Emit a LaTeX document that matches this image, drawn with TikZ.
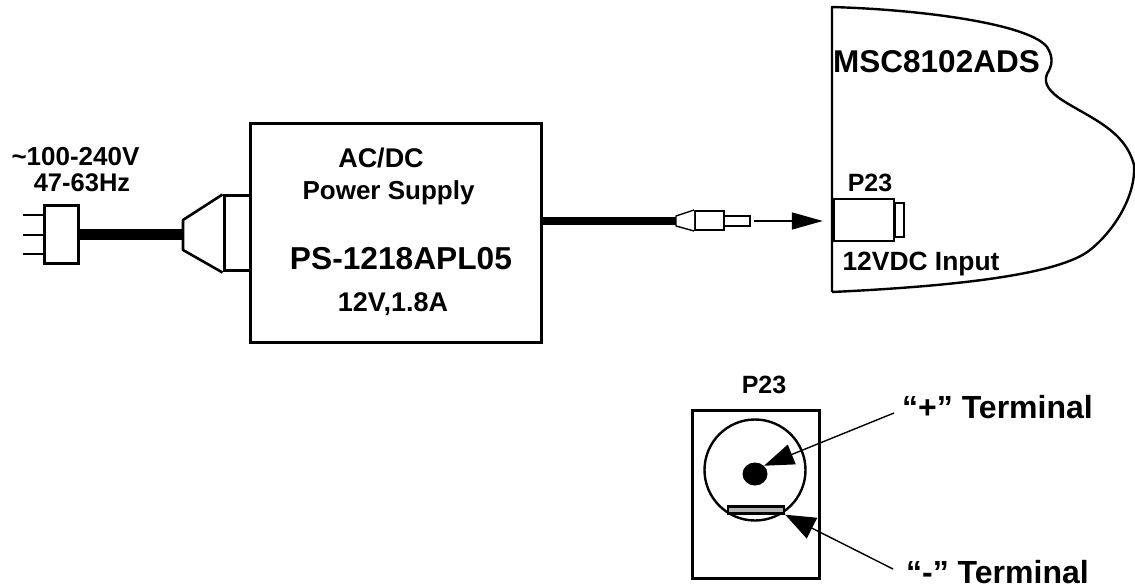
\documentclass[tikz,border=0pt]{standalone}
\usepackage{fontspec}
\setmainfont{Liberation Sans}
\usetikzlibrary{arrows.meta,shapes.geometric}
\tikzset{
    box/.style={draw,rectangle,line width=3pt,inner sep=0pt,fill=white},
    thin box/.style={draw,rectangle,line width=2pt,inner sep=0pt,fill=white},
    caption/.style={inner sep=0pt,align=center,font=\bfseries\fontsize{#1}{#1}\selectfont},
    caption/.default=20,
    cord/.style={line width=#1},
}
\begin{document}
\begin{tikzpicture}[x=1pt, y=-1pt, >={Triangle[length=31pt,width=17pt]}]
    \useasboundingbox (0,0) rectangle (1135,585);
    % board outline
    \draw[line width=2.4pt,line join=round] (832,292) -- (832,7)
        .. controls (930,10) and (1030,25) .. (1047,47)
        .. controls (1054,58) and (1052,66) .. (1047,74)
        .. controls (1043,84) and (1050,92) .. (1062,100)
        .. controls (1090,118) and (1125,130) .. (1134,165)
        .. controls (1136,195) and (1115,230) .. (1090,250)
        .. controls (1060,274) and (960,286) .. (832,292);
    \node[caption=31.5] (board) at (936.5,62) {MSC8102ADS};

    % plug and mains cord
    \node[caption=26] (mains) at (75.5,156.5) {\textasciitilde100-240V};
    \node[caption=25.5] (mains2) at (82,183) {47-63Hz};
    \node[box,minimum width=34pt,minimum height=58pt] (plug) at (61,235) {};
    \coordinate (pin1) at (23,215); \coordinate (pin2) at (23,235); \coordinate (pin3) at (23,254);
    \draw[line width=2.4pt] (pin1)--(pin1-|plug.west);
    \draw[line width=2.4pt] (pin2)--(pin2-|plug.west);
    \draw[line width=2.4pt] (pin3)--(pin3-|plug.west);

    % power supply
    \node[box,minimum width=291pt,minimum height=218pt] (psu) at (395.5,233) {};
    \node[box,minimum width=26pt,minimum height=75pt] (socket) at (237,233.5) {};
    \coordinate (relief) at (183,235);
    \draw[line width=2.6pt,line join=round,fill=white] (socket.north west) -- (183,220) -- (183,250) -- (socket.south west);
    \draw[cord=11pt] (plug.east)--(relief);
    \node[caption=27] (title) at (381,157.5) {AC/DC};
    \node[caption=26] (title2) at (388.5,192.5) {Power Supply};
    \node[caption=31.7] (model) at (401,259) {PS-1218APL05};
    \node[caption=27] (rating) at (393,304) {12V,1.8A};

    % output cord and barrel plug
    \node[thin box,minimum width=29pt,minimum height=19pt] (barrel) at (709.5,220.5) {};
    \node[thin box,line width=1.6pt,minimum width=26pt,minimum height=10pt] (tip) at (737,221) {};
    \draw[line width=1.4pt,line join=round,fill=white] (barrel.north west) -- (676,216) -- (676,226) -- (barrel.south west);
    \coordinate (cone) at (676,221);
    \draw[cord=8pt] (psu.east|-cone)--(cone);
    \coordinate (gap) at (754,221);

    % P23 on the board
    \node[caption=25] (jacklabel) at (870,183) {P23};
    \node[thin box,minimum width=9pt,minimum height=34pt] (jackback) at (899,220.5) {};
    \node[box,line width=2.4pt,minimum width=60pt,minimum height=42pt] (jack) at (864,220) {};
    \draw[line width=3.5pt] (jack.north west)--(jack.south west);
    \draw[->,line width=1.6pt,shorten >=10pt] (gap)--(jack.west|-gap);
    \node[caption=26.4] (input) at (921,264) {12VDC Input};

    % P23 end view
    \node[caption=25] (viewlabel) at (764,385) {P23};
    \node[box,minimum width=127pt,minimum height=168pt] (view) at (756,494.5) {};
    \node[draw,circle,line width=2.4pt,minimum size=101pt,inner sep=0pt] (shell) at (755,470) {};
    \node[ellipse,fill=black,minimum width=25pt,minimum height=23pt,inner sep=0pt] (pin) at (755,474) {};
    \node[draw,rectangle,line width=2.4pt,fill=black!30,minimum width=56pt,minimum height=7pt,inner sep=0pt] (bar) at (756,510) {};
    \node[caption=32,anchor=west] (plus) at (902,407) {“+” Terminal};
    \node[caption=32,anchor=west] (minus) at (906,572) {“-” Terminal};
    \coordinate (plusend) at (894,413); \coordinate (minusend) at (893,569);
    \draw[->,line width=1.4pt,>={Triangle[length=30pt,width=21pt]}] (plusend)--(pin.north east);
    \draw[->,line width=1.4pt,>={Triangle[length=30pt,width=23pt]}] (minusend)--(bar.south east);
\end{tikzpicture}
\end{document}
